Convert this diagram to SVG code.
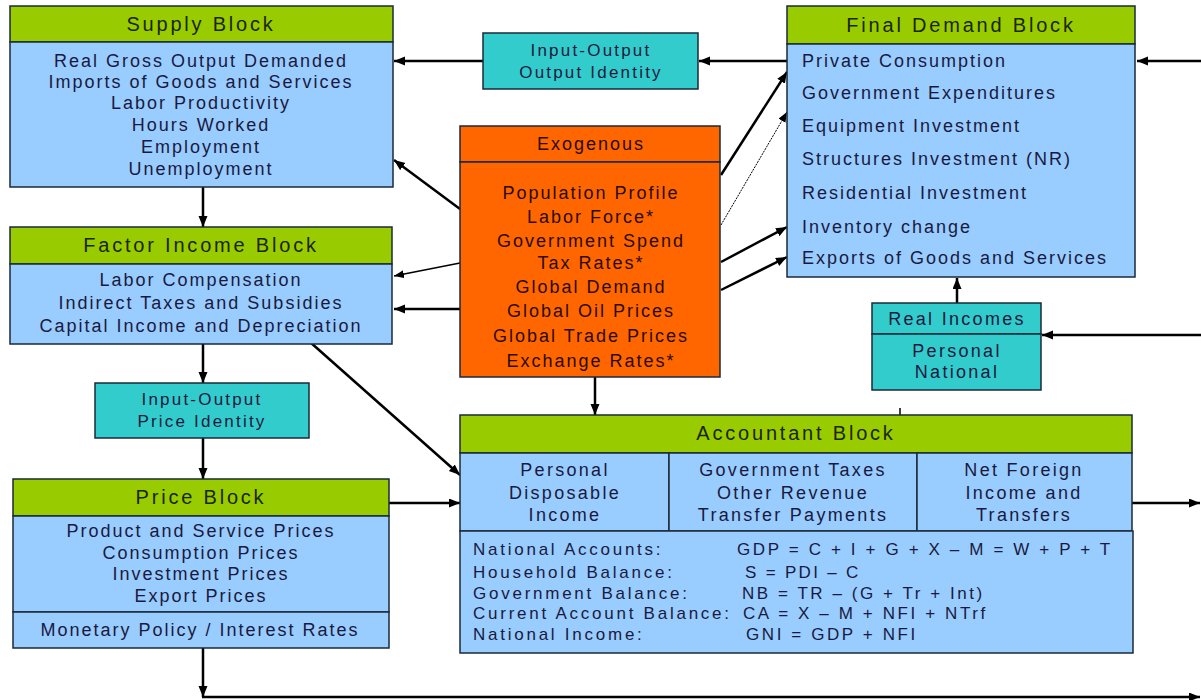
<svg xmlns="http://www.w3.org/2000/svg" width="1201" height="700" viewBox="0 0 1201 700">
<defs>
<marker id="ah" markerUnits="userSpaceOnUse" markerWidth="12" markerHeight="10" refX="11" refY="4.5" orient="auto">
<path d="M0,0 L11,4.5 L0,9 z" fill="#000"/>
</marker>
<marker id="ahs" markerUnits="userSpaceOnUse" markerWidth="12" markerHeight="10" refX="10" refY="4" orient="auto">
<path d="M0,0 L10,4 L0,8 z" fill="#000"/>
</marker>
<style>
.box{stroke:#1a2a3a;stroke-width:1.5}
.hdr{fill:#99CC00}
.body{fill:#99CCFF}
.teal{fill:#33CCCC}
.orange{fill:#FF6600}
text{font-family:"Liberation Sans",Arial,sans-serif}
.t{font-size:20px;letter-spacing:2.8px;fill:#1a2600;text-anchor:middle}
.b{font-size:18px;letter-spacing:2px;fill:#1a1a40;text-anchor:middle}
.bl{font-size:18px;letter-spacing:2px;fill:#1a1a40}
.s{font-size:17px;letter-spacing:2.2px}
.m{font-size:18px;letter-spacing:2.3px}
.e{font-size:18px;letter-spacing:2px;fill:#2a0c00;text-anchor:middle}
.q{font-size:17px;letter-spacing:2.75px;fill:#1a1a40}
.c{stroke:#000;stroke-width:2.5;fill:none}
.cs{stroke:#000;stroke-width:1.5;fill:none}
.cd{stroke:#000;stroke-width:1;fill:none;stroke-dasharray:2 1}
</style>
</defs>
<rect width="1201" height="700" fill="#fff"/>

<g id="connectors">
<path class="c" d="M483,61 L394,61" marker-end="url(#ah)"/>
<path class="c" d="M787,61 L699,61" marker-end="url(#ah)"/>
<path class="c" d="M1201,61 L1137,61" marker-end="url(#ah)"/>
<path class="c" d="M460,209 L394,160" marker-end="url(#ah)"/>
<path class="cs" d="M460,263 L394,276" marker-end="url(#ahs)"/>
<path class="c" d="M460,309 L394,309" marker-end="url(#ah)"/>
<path class="c" d="M595,377 L595,415" marker-end="url(#ah)"/>
<path class="c" d="M721,175 L787,72" marker-end="url(#ah)"/>
<path class="cd" d="M721,225 L787,112" marker-end="url(#ahs)"/>
<path class="c" d="M721,262 L787,227" marker-end="url(#ah)"/>
<path class="c" d="M721,290 L787,257" marker-end="url(#ah)"/>
<path class="c" d="M957,303 L957,278" marker-end="url(#ah)"/>
<path class="c" d="M1201,335 L1042,335" marker-end="url(#ah)"/>
<path class="c" d="M1132,503 L1200,503" marker-end="url(#ah)"/>
<path class="c" d="M203,187 L203,227" marker-end="url(#ah)"/>
<path class="c" d="M203,344 L203,383" marker-end="url(#ah)"/>
<path class="c" d="M203,438 L203,479" marker-end="url(#ah)"/>
<path class="c" d="M389,503 L460,503" marker-end="url(#ah)"/>
<path class="c" d="M310,342 L460,475" marker-end="url(#ah)"/>
<path class="c" d="M203,648 L203,697" marker-end="url(#ah)"/>
<path class="c" d="M202,697 L1200,697" marker-end="url(#ah)"/>
<path class="cs" d="M900,408 L900,415"/>
</g>

<g id="supply">
<rect class="box hdr" x="10" y="6" width="383" height="36"/>
<rect class="box body" x="10" y="42" width="383" height="145"/>
<text class="t" x="201" y="31">Supply Block</text>
<text class="b" x="201" y="67">Real Gross Output Demanded</text>
<text class="b" x="201" y="88">Imports of Goods and Services</text>
<text class="b" x="201" y="109">Labor Productivity</text>
<text class="b" x="201" y="131">Hours Worked</text>
<text class="b" x="201" y="153">Employment</text>
<text class="b" x="201" y="175">Unemployment</text>
</g>

<g id="io-output">
<rect class="box teal" x="483" y="33" width="215" height="56"/>
<text class="b s" x="591" y="56">Input-Output</text>
<text class="b s" x="591" y="78">Output Identity</text>
</g>

<g id="final-demand">
<rect class="box hdr" x="787" y="6" width="348" height="38"/>
<rect class="box body" x="787" y="44" width="348" height="233"/>
<text class="t" x="961" y="32">Final Demand Block</text>
<text class="bl" x="802" y="67">Private Consumption</text>
<text class="bl" x="802" y="99">Government Expenditures</text>
<text class="bl" x="802" y="132">Equipment Investment</text>
<text class="bl" x="802" y="165">Structures Investment (NR)</text>
<text class="bl" x="802" y="199">Residential Investment</text>
<text class="bl" x="802" y="233">Inventory change</text>
<text class="bl" x="802" y="264">Exports of Goods and Services</text>
</g>

<g id="exogenous">
<rect class="box orange" x="460" y="126" width="260" height="36"/>
<rect class="box orange" x="460" y="162" width="260" height="215"/>
<text class="e" x="591" y="150">Exogenous</text>
<text class="e" x="591" y="199">Population Profile</text>
<text class="e" x="591" y="223">Labor Force*</text>
<text class="e" x="591" y="247">Government Spend</text>
<text class="e" x="591" y="269">Tax Rates*</text>
<text class="e" x="591" y="293">Global Demand</text>
<text class="e" x="591" y="317">Global Oil Prices</text>
<text class="e" x="591" y="342">Global Trade Prices</text>
<text class="e" x="591" y="367">Exchange Rates*</text>
</g>

<g id="factor-income">
<rect class="box hdr" x="10" y="227" width="382" height="37"/>
<rect class="box body" x="10" y="264" width="382" height="80"/>
<text class="t" x="201" y="252">Factor Income Block</text>
<text class="b" x="201" y="286">Labor Compensation</text>
<text class="b" x="201" y="309">Indirect Taxes and Subsidies</text>
<text class="b" x="201" y="332">Capital Income and Depreciation</text>
</g>

<g id="io-price">
<rect class="box teal" x="95" y="383" width="214" height="55"/>
<text class="b s" x="202" y="405">Input-Output</text>
<text class="b s" x="202" y="427">Price Identity</text>
</g>

<g id="price">
<rect class="box hdr" x="13" y="479" width="376" height="37"/>
<rect class="box body" x="13" y="516" width="376" height="96"/>
<rect class="box body" x="13" y="612" width="376" height="36"/>
<text class="t" x="201" y="504">Price Block</text>
<text class="b" x="201" y="537">Product and Service Prices</text>
<text class="b" x="201" y="559">Consumption Prices</text>
<text class="b" x="201" y="580">Investment Prices</text>
<text class="b" x="201" y="602">Export Prices</text>
<text class="b" x="200" y="636">Monetary Policy / Interest Rates</text>
</g>

<g id="real-incomes">
<rect class="box teal" x="872" y="303" width="169" height="31"/>
<rect class="box teal" x="872" y="334" width="169" height="56"/>
<text class="b m" x="957" y="325">Real Incomes</text>
<text class="b m" x="957" y="357">Personal</text>
<text class="b m" x="957" y="378">National</text>
</g>

<g id="accountant">
<rect class="box hdr" x="460" y="415" width="672" height="38"/>
<rect class="box body" x="460" y="453" width="209" height="78"/>
<rect class="box body" x="669" y="453" width="248" height="78"/>
<rect class="box body" x="917" y="453" width="215" height="78"/>
<rect class="box body" x="460" y="531" width="673" height="122"/>
<text class="t" x="796" y="440">Accountant Block</text>
<text class="b m" x="565" y="476">Personal</text>
<text class="b m" x="565" y="499">Disposable</text>
<text class="b m" x="565" y="521">Income</text>
<text class="b m" x="793" y="476">Government Taxes</text>
<text class="b m" x="793" y="499">Other Revenue</text>
<text class="b m" x="793" y="521">Transfer Payments</text>
<text class="b m" x="1024" y="476">Net Foreign</text>
<text class="b m" x="1024" y="499">Income and</text>
<text class="b m" x="1024" y="521">Transfers</text>
<text class="q" x="473" y="555">National Accounts:</text>
<text class="q" x="473" y="578">Household Balance:</text>
<text class="q" x="473" y="599">Government Balance:</text>
<text class="q" x="473" y="619">Current Account Balance:</text>
<text class="q" x="473" y="640">National Income:</text>
<text class="q" x="737" y="555" textLength="376" lengthAdjust="spacing">GDP = C + I + G + X – M = W + P + T</text>
<text class="q" x="745" y="578" textLength="116" lengthAdjust="spacing">S = PDI – C</text>
<text class="q" x="742" y="599" textLength="243" lengthAdjust="spacing">NB = TR – (G + Tr + Int)</text>
<text class="q" x="743" y="619" textLength="245" lengthAdjust="spacing">CA = X – M + NFI + NTrf</text>
<text class="q" x="746" y="640" textLength="172" lengthAdjust="spacing">GNI = GDP + NFI</text>
</g>
</svg>
